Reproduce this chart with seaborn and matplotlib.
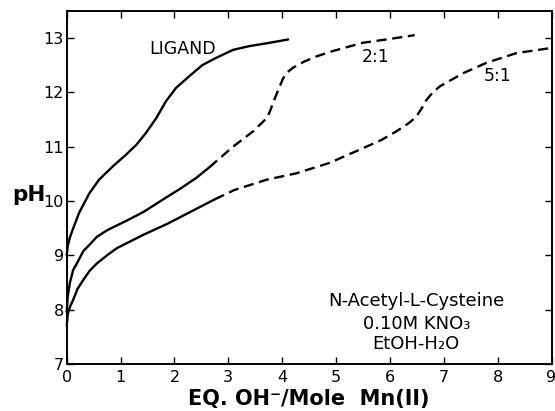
import matplotlib
matplotlib.use("Agg")
import matplotlib.pyplot as plt
import seaborn as sns
import pandas as pd

# ---- data ----
ligand_x = [0.0, 0.02, 0.06, 0.11, 0.23, 0.42, 0.60, 0.85, 1.10, 1.29, 1.47, 1.66, 1.84,
            2.03, 2.27, 2.52, 2.77, 3.09, 3.40, 3.71, 4.11]
ligand_y = [9.0, 9.18, 9.33, 9.47, 9.78, 10.14, 10.39, 10.63, 10.85, 11.03, 11.25, 11.52, 11.83,
            12.08, 12.29, 12.50, 12.63, 12.78, 12.85, 12.90, 12.97]

r21_solid_x = [0.0, 0.02, 0.06, 0.12, 0.20, 0.31, 0.43, 0.56, 0.75, 0.87, 1.10, 1.43, 1.84,
               2.10, 2.40, 2.65]
r21_solid_y = [7.95, 8.25, 8.50, 8.73, 8.87, 9.08, 9.20, 9.34, 9.46, 9.52, 9.63, 9.80, 10.06,
               10.22, 10.42, 10.62]
r21_dash_x = [2.65, 3.09, 3.46, 3.71, 3.77, 3.83, 3.93, 4.02, 4.10, 4.20, 4.40, 4.64, 4.95,
              5.50, 6.00, 6.46]
r21_dash_y = [10.62, 11.00, 11.28, 11.52, 11.64, 11.80, 12.05, 12.26, 12.37, 12.45, 12.56, 12.66, 12.76,
              12.91, 12.98, 13.05]

r51_solid_x = [0.0, 0.02, 0.06, 0.12, 0.20, 0.31, 0.43, 0.56, 0.75, 0.93, 1.43, 1.87, 2.30, 2.75]
r51_solid_y = [7.70, 7.92, 8.05, 8.18, 8.38, 8.55, 8.72, 8.85, 9.00, 9.13, 9.38, 9.58, 9.80, 10.03]
r51_dash_x = [2.75, 3.11, 3.71, 4.27, 4.88, 5.50, 5.84, 6.12, 6.35, 6.49, 6.60, 6.68, 6.80,
              6.93, 7.36, 7.79, 8.35, 8.97]
r51_dash_y = [10.03, 10.20, 10.39, 10.51, 10.70, 10.97, 11.12, 11.28, 11.43, 11.55, 11.72, 11.86, 12.00,
              12.11, 12.35, 12.54, 12.72, 12.81]

curve_labels = ["LIGAND", "2:1", "5:1"]
label_x = [2.15, 5.73, 7.99]
label_y = [12.80, 12.64, 12.30]

x_ticks = list(range(0, 10))
y_ticks = list(range(7, 14))
note_lines = ["N-Acetyl-L-Cysteine", "0.10M KNO₃", "EtOH-H₂O"]
note_y = [8.15, 7.74, 7.36]

# ---- plotting ----
sns.set_theme(style="ticks")
plt.rcParams['font.family'] = ['DejaVu Sans']

fig = plt.figure(figsize=(5.55, 4.11), dpi=100)
ax = fig.add_axes([0.1202, 0.1144, 0.8735, 0.8596])

lw = 1.7
dash = (0, (4.3, 2.4))

segments = [
    (ligand_x, ligand_y, "-"),
    (r21_solid_x, r21_solid_y, "-"),
    (r21_dash_x, r21_dash_y, dash),
    (r51_solid_x, r51_solid_y, "-"),
    (r51_dash_x, r51_dash_y, dash),
]
for xs, ys, ls in segments:
    df = pd.DataFrame({"x": xs, "y": ys})
    sns.lineplot(data=df, x="x", y="y", ax=ax, color="black", lw=lw,
                 linestyle=ls, estimator=None, sort=False, clip_on=False)

for t, lx, ly in zip(curve_labels, label_x, label_y):
    ax.text(lx, ly, t, ha="center", va="center", fontsize=12.5, color="black")

for t, ny in zip(note_lines, note_y):
    ax.text(6.49, ny, t, ha="center", va="center", fontsize=13, color="black")

ax.set_xlim(0, 9)
ax.set_ylim(7, 13.5)
ax.set_xticks(x_ticks)
ax.set_yticks(y_ticks)
ax.set_xticklabels([str(v) for v in x_ticks])
ax.set_yticklabels([str(v) for v in y_ticks])

ax.tick_params(axis="both", direction="in", length=5, width=1.0, labelsize=11.5,
               top=True, right=True, color="black", labelcolor="black")
ax.tick_params(axis="x", pad=4)
ax.tick_params(axis="y", pad=2)

for sp in ax.spines.values():
    sp.set_visible(True)
    sp.set_linewidth(1.4)
    sp.set_color("black")

ax.set_xlabel("EQ. OH⁻/Mole  Mn(II)", fontsize=15, fontweight="bold", color="black",
              va="center")
ax.xaxis.set_label_coords(0.5, -0.1)
ax.set_ylabel("pH", rotation=0, fontsize=15.5, fontweight="bold", color="black",
              ha="center", va="center")
ax.yaxis.set_label_coords(-0.078, 0.478)

fig.savefig("out.png", dpi=100)
